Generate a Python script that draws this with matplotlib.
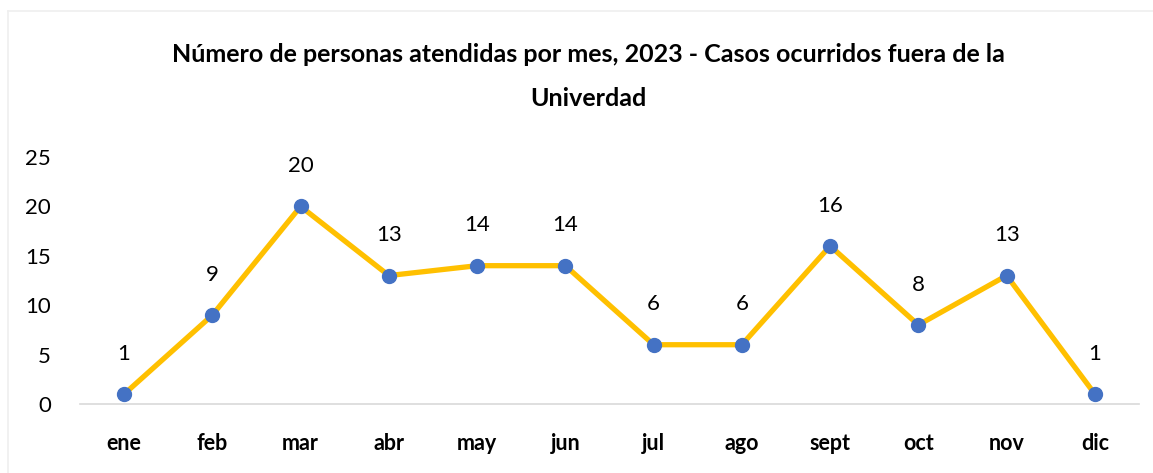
import matplotlib
matplotlib.use("Agg")
import matplotlib.pyplot as plt
from matplotlib.lines import Line2D

months = ["ene", "feb", "mar", "abr", "may", "jun", "jul", "ago", "sept", "oct", "nov", "dic"]
values = [1, 9, 20, 13, 14, 14, 6, 6, 16, 8, 13, 1]
yticks = [0, 5, 10, 15, 20, 25]

W, H = 1153, 473
fig = plt.figure(figsize=(W / 100, H / 100), dpi=100)
fig.patch.set_facecolor("white")

# faint chart-area border (left and top)
fig.add_artist(Line2D([8 / W, 8 / W], [0, 1 - 11 / H], transform=fig.transFigure, color="#EFEFEF", lw=1.2))
fig.add_artist(Line2D([8 / W, 1], [1 - 11 / H, 1 - 11 / H], transform=fig.transFigure, color="#EFEFEF", lw=1.2))

ax = fig.add_axes([80 / W, 1 - 404 / H, (1139 - 80) / W, (404 - 157) / H])
x = list(range(len(months)))
ax.plot(x, values, color="#FFC000", lw=3.8, solid_joinstyle="miter", zorder=2)
ax.plot(x, values, "o", color="#4472C4", ms=10, mec="#4472C4", zorder=3)

for xi, v in zip(x, values):
    ax.annotate(str(v), (xi, v), xytext=(0, 29), textcoords="offset points",
                ha="center", va="center", fontsize=16, family="Lato", color="black")

ax.set_xlim(-0.5, len(months) - 0.5)
ax.set_ylim(0, 25)
ax.set_yticks(yticks)
ax.set_yticklabels([str(t) for t in yticks], fontsize=16, family="Lato")
ax.set_xticks(x)
ax.set_xticklabels(months, fontsize=15.5, family="Lato", fontweight="bold")
ax.tick_params(axis="y", length=0, pad=21)
ax.tick_params(axis="x", length=0, pad=21)

for s in ["top", "right", "left"]:
    ax.spines[s].set_visible(False)
ax.spines["bottom"].set_color("#D9D9D9")
ax.spines["bottom"].set_linewidth(1.2)

cx = 0.5 * (173 + 1003) / W
fig.text(cx, 1 - 55 / H, "Número de personas atendidas por mes, 2023 - Casos ocurridos fuera de la",
         ha="center", va="center", fontsize=18, fontweight="bold", family="Lato")
fig.text(cx, 1 - 98 / H, "Univerdad",
         ha="center", va="center", fontsize=18, fontweight="bold", family="Lato")

fig.savefig("out.png", dpi=100, facecolor="white")
